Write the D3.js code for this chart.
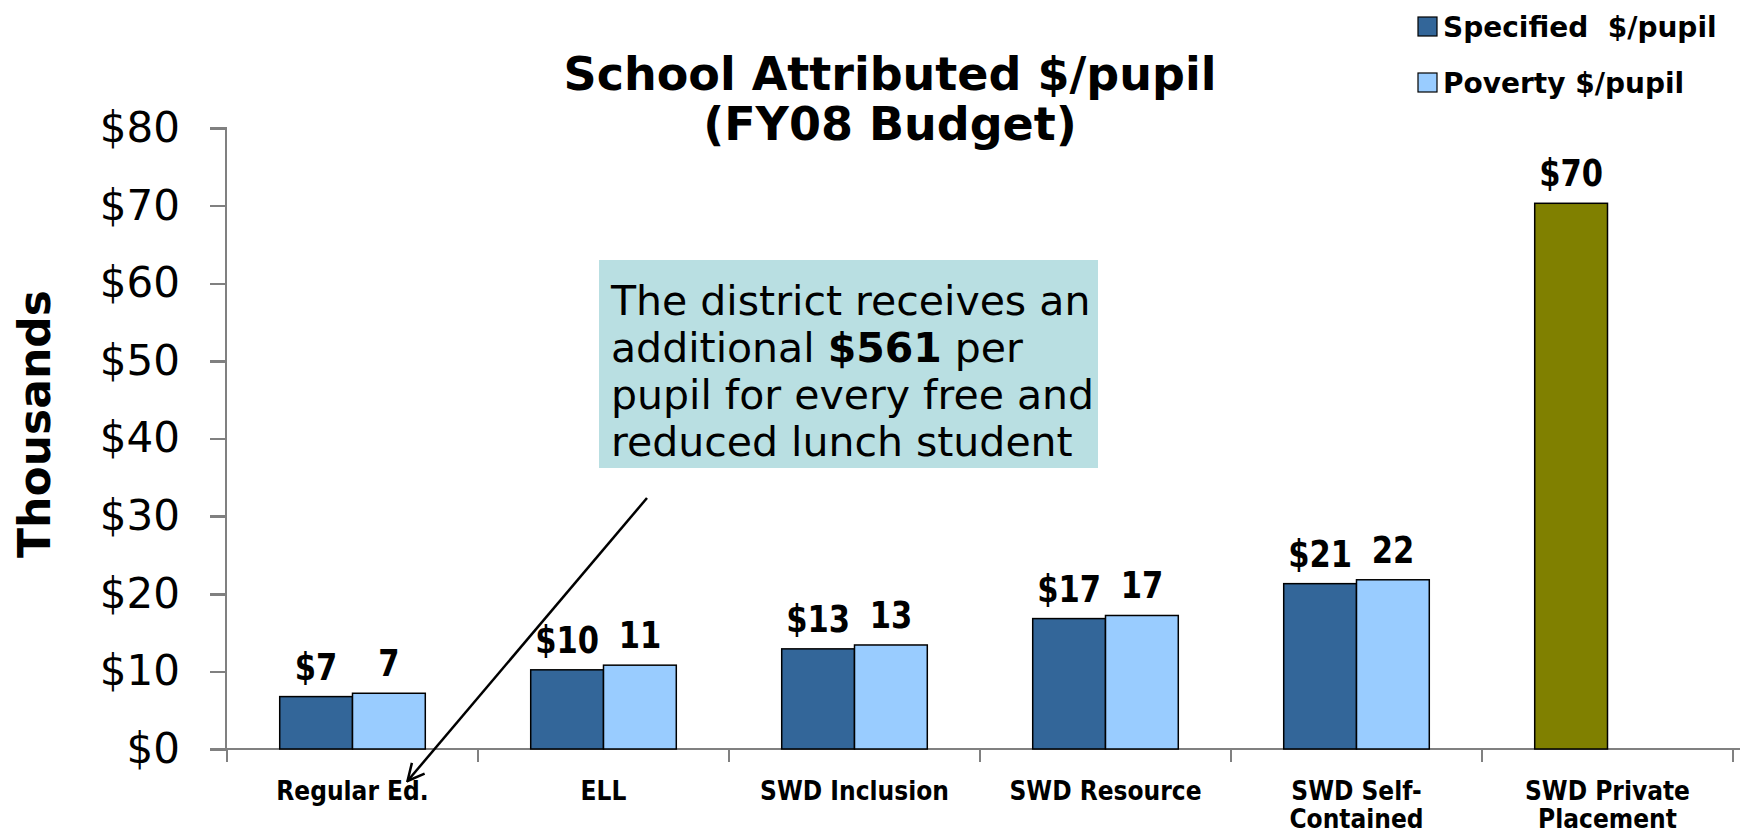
<!DOCTYPE html>
<head>
<meta charset="utf-8">
<title>School Attributed $/pupil</title>
<script type="text/javascript" src="https://d3js.org/d3.v7.min.js"></script>
<style>
body { margin: 0; background: #fff; }
.axis path, .axis line { stroke: #808080; stroke-width: 2.5; shape-rendering: crispEdges; }
.y-axis text { fill: #000; font-family: "DejaVu Sans", Verdana, sans-serif; font-size: 42px; }
.cat-label { fill: #000; font-family: "DejaVu Sans Condensed", "DejaVu Sans", sans-serif; font-weight: bold; font-size: 26px; }
.bar-label { fill: #000; font-family: "DejaVu Sans Condensed", "DejaVu Sans", sans-serif; font-weight: bold; font-size: 34px; }
.title { fill: #000; font-family: "DejaVu Sans", Verdana, sans-serif; font-weight: bold; font-size: 46px; }
.legend text { fill: #000; font-family: "DejaVu Sans", Verdana, sans-serif; font-weight: bold; font-size: 28px; white-space: pre; }
.note { fill: #000; font-family: "DejaVu Sans", Verdana, sans-serif; font-size: 41px; }
</style>
</head>
<body>
<div id="container"></div>
<script>
//---------------------------DATA--------------------------------//
const categories = ["Regular Ed.", "ELL", "SWD Inclusion", "SWD Resource", "SWD Self-\nContained", "SWD Private\nPlacement"];
const specified = [6.75, 10.2, 12.9, 16.8, 21.3, 70.3];
const poverty = [7.18, 10.8, 13.4, 17.2, 21.8, null];
const seriesNames = ["Specified  $/pupil", "Poverty $/pupil"];
const yTicks = [0, 10, 20, 30, 40, 50, 60, 70, 80];
const titleLines = ["School Attributed $/pupil", "(FY08 Budget)"];
const yTitle = "Thousands";
const noteLines = [
    [["The district receives an", false]],
    [["additional ", false], ["$561", true], [" per", false]],
    [["pupil for every free and", false]],
    [["reduced lunch student", false]]
];

//---------------------------SVG---------------------------------//
const width = 1748;
const height = 835;
const plot = {left: 226, right: 1734, top: 128, bottom: 749};
const colors = {specified: "#336699", poverty: "#99CCFF", special: "#808000"};

const svg = d3.select("div#container").append("svg")
    .attr("width", width)
    .attr("height", height);

//--------------------------SCALES-------------------------------//
const x0 = d3.scaleBand()
    .domain(categories)
    .range([plot.left, plot.right])
    .paddingInner(0.42)
    .paddingOuter(0.214);

const x1 = d3.scaleBand()
    .domain(["specified", "poverty"])
    .range([0, x0.bandwidth()]);

const y = d3.scaleLinear()
    .domain([0, 80])
    .range([plot.bottom, plot.top]);

const rows = categories.map(function(c, i) {
    return [
        {cat: c, key: "specified", value: specified[i], i: i},
        {cat: c, key: "poverty", value: poverty[i], i: i}
    ].filter(function(d) { return d.value != null; });
});

//---------------------------AXES--------------------------------//
const yaxis = d3.axisLeft(y)
    .tickValues(yTicks)
    .tickSize(16)
    .tickPadding(30)
    .tickFormat(function(d) { return "$" + d; });

svg.append("g")
    .attr("class", "axis y-axis")
    .attr("transform", "translate(" + plot.left + ",0)")
    .call(yaxis)
    .call(function(g) { g.select(".domain").attr("d", "M-16," + plot.top + "H0V" + plot.bottom); });

// x axis line with boundary ticks between categories
const xg = svg.append("g").attr("class", "axis");
xg.append("line")
    .attr("x1", plot.left - 16).attr("x2", plot.right + 6)
    .attr("y1", plot.bottom).attr("y2", plot.bottom);
const bounds = categories.map(function(c) { return x0(c) - x0.step() * x0.paddingInner() / 2; })
    .concat([x0(categories[categories.length - 1]) + x0.bandwidth() + x0.step() * x0.paddingInner() / 2]);
xg.selectAll(".xtick")
    .data(bounds)
    .enter().append("line")
    .attr("x1", function(d) { return d; }).attr("x2", function(d) { return d; })
    .attr("y1", plot.bottom).attr("y2", plot.bottom + 13);

// category labels
svg.selectAll(".cat-label")
    .data(categories)
    .enter().append("text")
    .attr("class", "cat-label")
    .attr("text-anchor", "middle")
    .attr("x", function(d) { return x0(d) + x0.bandwidth() / 2; })
    .attr("y", plot.bottom + 51)
    .each(function(d) {
        const t = d3.select(this);
        d.split("\n").forEach(function(line, k) {
            t.append("tspan")
                .attr("x", x0(d) + x0.bandwidth() / 2)
                .attr("dy", k === 0 ? 0 : 28)
                .text(line);
        });
    });

//---------------------------BARS--------------------------------//
const groups = svg.selectAll(".group")
    .data(rows)
    .enter().append("g")
    .attr("transform", function(d, i) { return "translate(" + x0(categories[i]) + ",0)"; });

groups.selectAll("rect")
    .data(function(d) { return d; })
    .enter().append("rect")
    .attr("x", function(d) { return x1(d.key); })
    .attr("y", function(d) { return y(d.value); })
    .attr("width", x1.bandwidth())
    .attr("height", function(d) { return y(0) - y(d.value); })
    .attr("fill", function(d) {
        if (d.i === categories.length - 1) return colors.special;
        return colors[d.key];
    })
    .attr("stroke", "#000")
    .attr("stroke-width", 1.5);

// labels are slightly stretched vertically, as in the original
groups.selectAll(".bar-label")
    .data(function(d) { return d; })
    .enter().append("text")
    .attr("class", "bar-label")
    .attr("text-anchor", "middle")
    .attr("transform", function(d) {
        return "translate(" + (x1(d.key) + x1.bandwidth() / 2) + "," + (y(d.value) - 17) + ") scale(1,1.12)";
    })
    .text(function(d) {
        const v = Math.round(d.value);
        return d.key === "specified" ? "$" + v : String(v);
    });

//---------------------------TEXTS-------------------------------//
svg.append("text")
    .attr("class", "title")
    .attr("text-anchor", "middle")
    .selectAll("tspan")
    .data(titleLines)
    .enter().append("tspan")
    .attr("x", 890)
    .attr("y", function(d, i) { return 90 + i * 50; })
    .text(function(d) { return d; });

svg.append("text")
    .attr("class", "title")
    .attr("text-anchor", "middle")
    .attr("transform", "translate(50,424) rotate(-90)")
    .style("font-size", "44px")
    .text(yTitle);

//---------------------------LEGEND------------------------------//
const legend = svg.append("g").attr("class", "legend");
const legendItems = legend.selectAll("g")
    .data(seriesNames)
    .enter().append("g")
    .attr("transform", function(d, i) { return "translate(1418," + (17 + i * 56) + ")"; });
legendItems.append("rect")
    .attr("width", 19).attr("height", 19)
    .attr("fill", function(d, i) { return i === 0 ? colors.specified : colors.poverty; })
    .attr("stroke", "#000").attr("stroke-width", 1.2);
legendItems.append("text")
    .attr("x", 25).attr("y", 20)
    .text(function(d) { return d; });

//-------------------------ANNOTATION----------------------------//
const box = {x: 599, y: 260, w: 499, h: 208};
svg.append("rect")
    .attr("x", box.x).attr("y", box.y)
    .attr("width", box.w).attr("height", box.h)
    .attr("fill", "#B9DFE2");

const note = svg.append("text").attr("class", "note");
noteLines.forEach(function(parts, k) {
    parts.forEach(function(p, j) {
        const ts = note.append("tspan").text(p[0]);
        if (j === 0) ts.attr("x", box.x + 12).attr("y", box.y + 55 + k * 47);
        if (p[1]) ts.style("font-weight", "bold");
    });
});

svg.append("defs").append("marker")
    .attr("id", "arrow")
    .attr("viewBox", "0 0 12 12")
    .attr("refX", 11).attr("refY", 6)
    .attr("markerWidth", 20).attr("markerHeight", 20)
    .attr("markerUnits", "userSpaceOnUse")
    .attr("orient", "auto")
    .append("path")
    .attr("d", "M1,1 L11,6 L1,11")
    .attr("fill", "none")
    .attr("stroke", "#000")
    .attr("stroke-width", 1.5);

svg.append("line")
    .attr("x1", box.x + 48).attr("y1", box.y + box.h + 30)
    .attr("x2", x0(categories[0]) + x0.bandwidth() / 2 + 55)
    .attr("y2", plot.bottom + 32)
    .attr("stroke", "#000")
    .attr("stroke-width", 2.5)
    .attr("marker-end", "url(#arrow)");
</script>
</body>
